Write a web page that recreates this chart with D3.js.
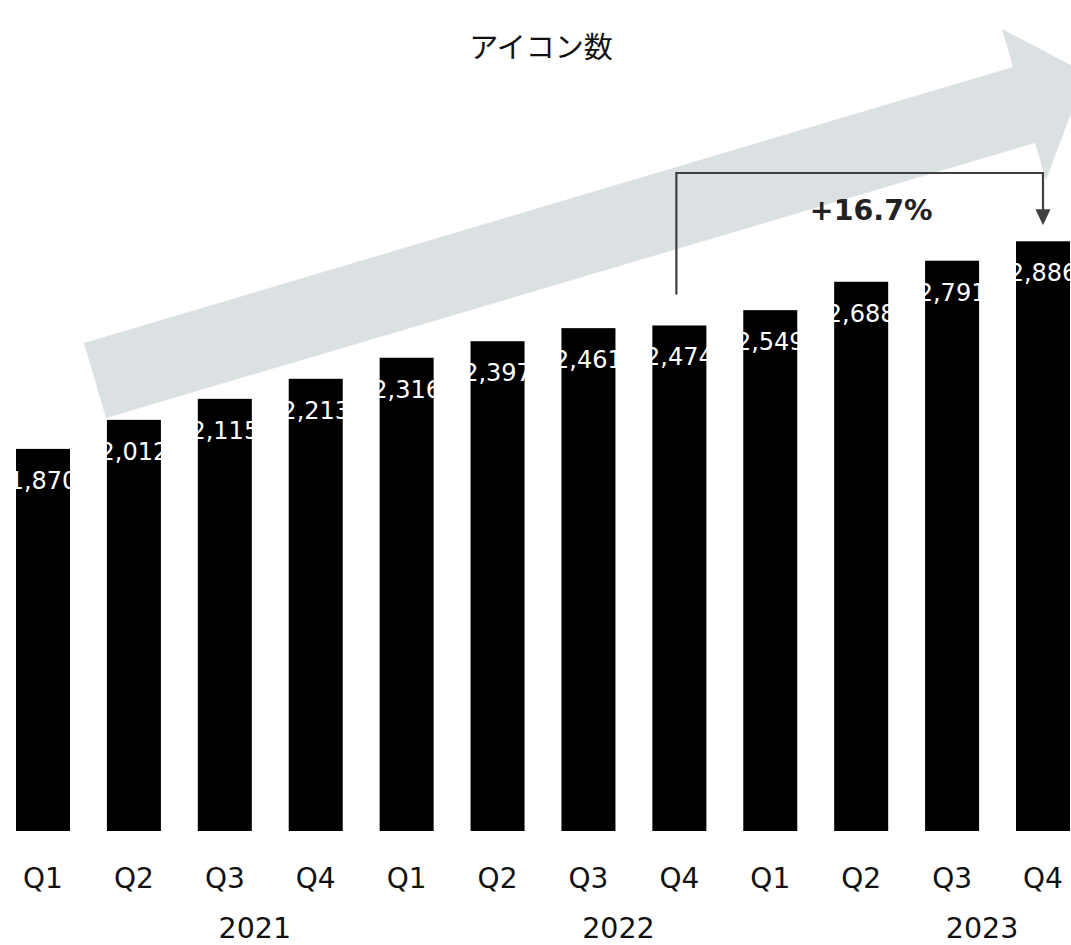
<!DOCTYPE html>
<html><head><meta charset="utf-8">
<script src="https://cdn.jsdelivr.net/npm/d3@7"></script>
<style>body{margin:0;background:#fff}svg{display:block}</style>
</head><body>
<svg id="c" width="1071" height="945"></svg>
<script>
const quarters = ["Q1","Q2","Q3","Q4","Q1","Q2","Q3","Q4","Q1","Q2","Q3","Q4"];
const years = ["2021","2022","2023"];
const values = [1870,2012,2115,2213,2316,2397,2461,2474,2549,2688,2791,2886];
const title = "アイコン数";
const growthLabel = "+16.7%";

const svg = d3.select("#c");
const font = "'DejaVu Sans', Verdana, sans-serif";
const x = d3.scaleBand().domain(d3.range(values.length)).range([16,1070]).paddingInner(0.406).paddingOuter(0);
const y = d3.scaleLinear().domain([0,3000]).range([831,218]);
const bw = x.bandwidth();

// big background arrow
const arrowPts = [[84,343],[1013,67],[1002,29],[1086,73],[1046,180],[1035,143],[106,418]];
svg.append("path").attr("d", d3.line()(arrowPts)+"Z").attr("fill","#dbe0e3");

// title
svg.append("text").attr("x",541).attr("y",58).attr("text-anchor","middle")
  .attr("font-family","'Noto Sans CJK JP', sans-serif").attr("font-size",29).attr("fill","#111").text(title);

// bars
svg.append("g").selectAll("rect").data(values).join("rect")
  .attr("x",(d,i)=>x(i)).attr("y",d=>y(d)).attr("width",bw).attr("height",d=>y(0)-y(d)).attr("fill","#000");

// value labels (white, centered, overflow invisible on white bg)
svg.append("g").selectAll("text").data(values).join("text")
  .attr("x",(d,i)=>x(i)+bw/2).attr("y",d=>y(d)+40).attr("text-anchor","middle")
  .attr("font-family",font).attr("font-size",24).attr("fill","#fff").text(d=>d3.format(",")(d));

// bracket
const i0 = 7, i1 = 11;
const bx0 = x(i0)+bw/2-3, bx1 = x(i1)+bw/2;
const topY = 173;
svg.append("path").attr("d", d3.line()([[bx0,y(values[i0])-31],[bx0,topY],[bx1,topY],[bx1,y(values[i1])-31]]))
  .attr("fill","none").attr("stroke","#404040").attr("stroke-width",2.2);
svg.append("path").attr("d", d3.line()([[bx1-7.5,y(values[i1])-32],[bx1+7.5,y(values[i1])-32],[bx1,y(values[i1])-16]])+"Z")
  .attr("fill","#404040");
svg.append("text").attr("x",(x(8)+x(10)+bw)/2+10).attr("y",220).attr("text-anchor","middle")
  .attr("font-family",font).attr("font-weight","bold").attr("font-size",28.5).attr("fill","#222").text(growthLabel);

// x axis (quarters)
const ax = d3.axisBottom(x).tickSize(0).tickPadding(0).tickFormat(i=>quarters[i]);
const g = svg.append("g").attr("transform","translate(0,868)").call(ax);
g.select(".domain").remove();
g.selectAll("text").attr("font-family",font).attr("font-size",28).attr("fill","#111").attr("dy","0.71em");

// year labels
svg.append("g").selectAll("text").data(years).join("text")
  .attr("x",(d,k)=>x(k*4+2)+bw/2+30).attr("y",938).attr("text-anchor","middle")
  .attr("font-family",font).attr("font-size",28.5).attr("fill","#111").text(d=>d);
</script>
</body></html>
